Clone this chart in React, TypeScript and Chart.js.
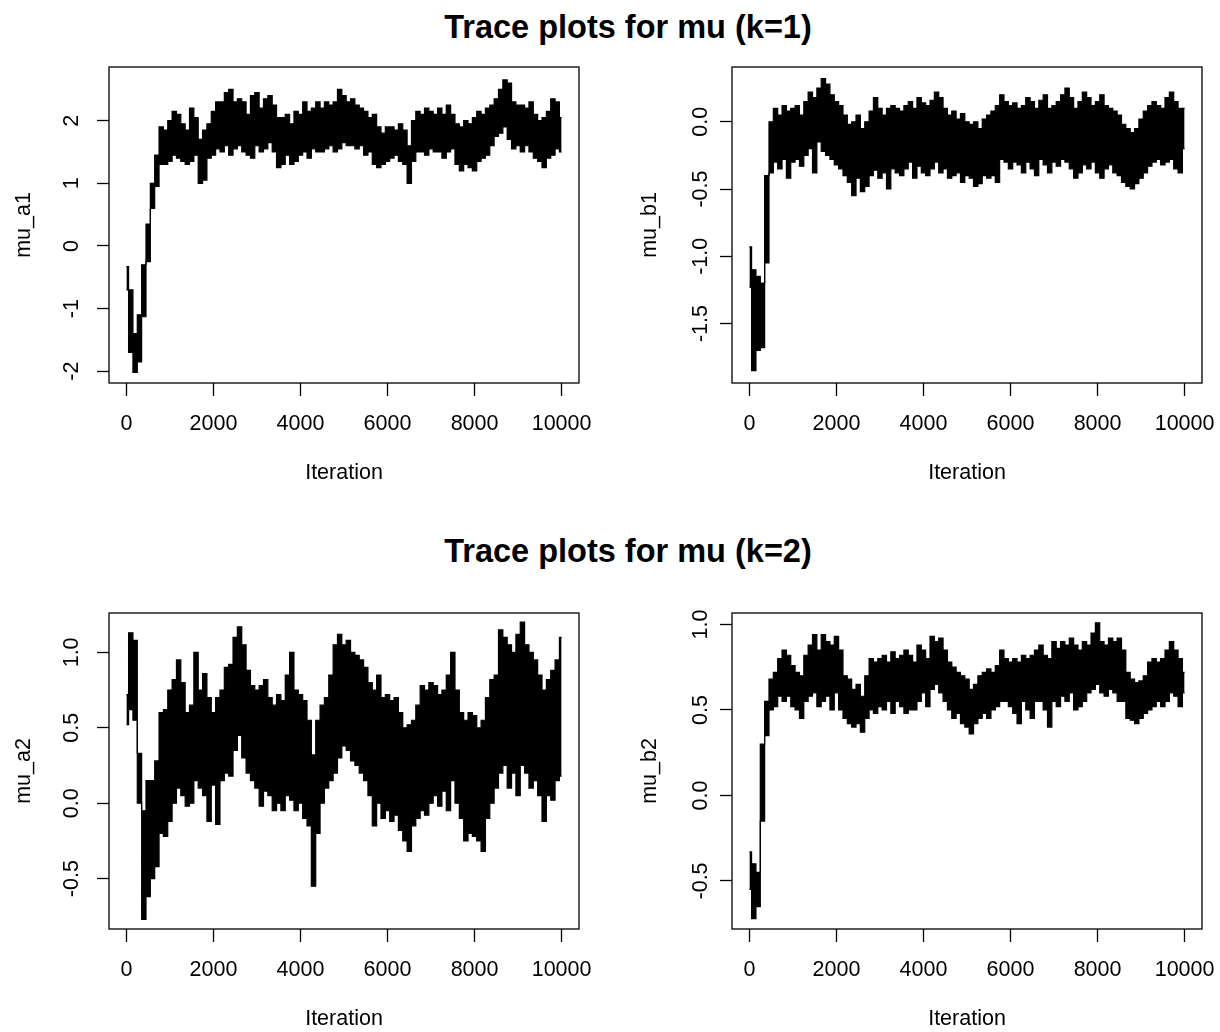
import React, { useEffect, useRef } from "react";
import { Chart, registerables } from "chart.js";

Chart.register(...registerables);

// Iteration positions (every 100 iterations)
const ITERATIONS: number[] = Array.from({ length: 101 }, (_, i) => i * 100);
const X_TICKS = [0, 2000, 4000, 6000, 8000, 10000];

const TITLE_K1 = "Trace plots for mu (k=1)";
const TITLE_K2 = "Trace plots for mu (k=2)";

// ---- mu_a1 (upper / lower envelope of the trace per 100 iterations)
const MU_A1_HI = [-0.33, -0.7, -1.4, -1.1, -0.3, 0.35, 1.0, 1.45, 1.9, 1.85,
  2.0, 2.15, 2.1, 1.95, 1.85, 2.2, 2.05, 1.7, 1.85, 1.95,
  2.15, 2.3, 2.3, 2.45, 2.5, 2.3, 2.35, 2.3, 2.1, 2.4,
  2.45, 2.2, 2.35, 2.4, 2.25, 2.05, 2.05, 2.1, 1.95, 2.15,
  2.1, 2.3, 2.15, 2.2, 2.3, 2.2, 2.3, 2.25, 2.3, 2.5,
  2.4, 2.3, 2.35, 2.25, 2.2, 2.15, 2.05, 2.1, 1.9, 1.8,
  1.9, 1.9, 1.85, 1.95, 1.85, 1.6, 2.0, 2.15, 2.1, 2.2,
  2.15, 2.1, 2.2, 2.1, 2.25, 2.1, 1.95, 1.9, 2.0, 1.95,
  2.05, 2.15, 2.1, 2.2, 2.25, 2.35, 2.5, 2.65, 2.6, 2.3,
  2.25, 2.25, 2.2, 2.3, 2.1, 2.0, 2.05, 2.15, 2.35, 2.3,
  2.05];
const MU_A1_LO = [-0.7, -1.7, -2.02, -1.85, -1.13, -0.25, 0.6, 0.95, 1.3, 1.3,
  1.35, 1.45, 1.4, 1.35, 1.3, 1.35, 1.45, 1.0, 1.05, 1.4,
  1.45, 1.55, 1.5, 1.6, 1.45, 1.55, 1.6, 1.5, 1.45, 1.4,
  1.6, 1.5, 1.55, 1.65, 1.5, 1.25, 1.3, 1.45, 1.3, 1.35,
  1.45, 1.5, 1.4, 1.55, 1.5, 1.5, 1.55, 1.6, 1.5, 1.55,
  1.65, 1.6, 1.6, 1.55, 1.6, 1.45, 1.5, 1.3, 1.25, 1.3,
  1.35, 1.4, 1.45, 1.35, 1.3, 1.0, 1.35, 1.5, 1.5, 1.45,
  1.55, 1.5, 1.5, 1.4, 1.5, 1.55, 1.3, 1.2, 1.3, 1.25,
  1.2, 1.35, 1.4, 1.45, 1.6, 1.75, 1.8, 1.9, 1.7, 1.55,
  1.6, 1.5, 1.6, 1.5, 1.4, 1.35, 1.25, 1.4, 1.45, 1.55,
  1.5];

// ---- mu_b1
const MU_B1_HI = [-0.93, -1.1, -1.15, -1.2, -0.4, 0.0, 0.1, 0.05, 0.12, 0.08,
  0.1, 0.12, 0.05, 0.15, 0.22, 0.18, 0.25, 0.32, 0.28, 0.2,
  0.15, 0.12, 0.05, -0.02, 0.0, 0.05, -0.05, 0.0, 0.08, 0.18,
  0.1, 0.05, 0.1, 0.12, 0.1, 0.08, 0.12, 0.15, 0.1, 0.18,
  0.14, 0.12, 0.16, 0.22, 0.18, 0.1, 0.05, 0.08, 0.02, 0.06,
  0.0, -0.02, 0.0, -0.05, 0.02, 0.05, 0.08, 0.12, 0.2, 0.15,
  0.12, 0.14, 0.1, 0.12, 0.18, 0.15, 0.1, 0.16, 0.2, 0.1,
  0.12, 0.15, 0.2, 0.25, 0.18, 0.1, 0.15, 0.22, 0.18, 0.12,
  0.15, 0.2, 0.12, 0.1, 0.08, 0.05, -0.02, -0.05, -0.08, -0.05,
  0.02, 0.08, 0.12, 0.15, 0.12, 0.1, 0.18, 0.22, 0.15, 0.1,
  0.1];
const MU_B1_LO = [-1.23, -1.85, -1.7, -1.68, -1.05, -0.38, -0.3, -0.35, -0.28, -0.42,
  -0.3, -0.28, -0.33, -0.25, -0.2, -0.38, -0.15, -0.22, -0.25, -0.28,
  -0.32, -0.35, -0.4, -0.45, -0.55, -0.42, -0.52, -0.48, -0.4, -0.36,
  -0.42, -0.38, -0.5, -0.35, -0.38, -0.4, -0.35, -0.3, -0.42, -0.33,
  -0.38, -0.4, -0.35, -0.3, -0.38, -0.35, -0.42, -0.4, -0.38, -0.45,
  -0.4, -0.42, -0.48, -0.46, -0.4, -0.42, -0.4, -0.45, -0.28, -0.3,
  -0.35, -0.3, -0.32, -0.38, -0.3, -0.35, -0.4, -0.28, -0.32, -0.38,
  -0.3, -0.33, -0.28, -0.3, -0.35, -0.42, -0.38, -0.32, -0.35, -0.3,
  -0.38, -0.42, -0.35, -0.32, -0.38, -0.4, -0.45, -0.48, -0.5, -0.46,
  -0.42, -0.38, -0.33, -0.3, -0.28, -0.32, -0.3, -0.28, -0.35, -0.38,
  -0.2];

// ---- mu_a2
const MU_A2_HI = [0.72, 1.13, 1.08, 0.33, -0.05, 0.15, 0.15, 0.28, 0.6, 0.62,
  0.75, 0.82, 0.95, 0.8, 0.6, 0.65, 1.0, 0.75, 0.86, 0.7,
  0.6, 0.7, 0.75, 0.9, 0.92, 1.1, 1.17, 1.05, 0.88, 0.78,
  0.75, 0.78, 0.82, 0.7, 0.65, 0.72, 0.68, 0.85, 1.0, 0.75,
  0.72, 0.68, 0.55, 0.32, 0.55, 0.65, 0.7, 0.85, 1.05, 1.12,
  1.05, 1.08, 1.0, 0.98, 0.95, 0.9, 0.8, 0.75, 0.85, 0.7,
  0.72, 0.68, 0.7, 0.6, 0.5, 0.52, 0.55, 0.65, 0.78, 0.75,
  0.8, 0.78, 0.72, 0.75, 0.85, 1.0, 0.75, 0.6, 0.55, 0.6,
  0.58, 0.5, 0.55, 0.7, 0.82, 0.85, 1.15, 1.1, 1.05, 1.0,
  1.12, 1.2, 1.05, 1.0, 0.95, 0.85, 0.75, 0.82, 0.88, 0.95,
  1.1];
const MU_A2_LO = [0.52, 0.62, 0.55, 0.0, -0.77, -0.62, -0.5, -0.42, -0.2, -0.22,
  -0.12, 0.0, 0.1, 0.05, -0.02, 0.0, 0.15, 0.1, 0.05, -0.12,
  0.12, -0.14, 0.15, 0.2, 0.18, 0.35, 0.45, 0.3, 0.2, 0.15,
  0.1, -0.02, 0.08, 0.05, -0.05, 0.0, -0.05, 0.05, 0.02, -0.05,
  0.0, -0.1, -0.15, -0.55, -0.2, 0.0, 0.1, 0.15, 0.2, 0.3,
  0.38, 0.35, 0.28, 0.25, 0.2, 0.15, 0.05, -0.15, 0.0, -0.1,
  -0.05, -0.12, -0.08, -0.18, -0.25, -0.32, -0.15, -0.1, -0.05, -0.08,
  0.0, 0.05, -0.02, 0.08, -0.05, 0.15, 0.0, -0.1, -0.25, -0.2,
  -0.22, -0.25, -0.32, -0.1, 0.0, 0.1, 0.2, 0.25, 0.1, 0.2,
  0.05, 0.25, 0.2, 0.1, 0.15, 0.05, -0.12, 0.05, 0.02, 0.15,
  0.18];

// ---- mu_b2
const MU_B2_HI = [-0.33, -0.4, -0.45, 0.3, 0.55, 0.68, 0.72, 0.8, 0.85, 0.82,
  0.76, 0.72, 0.7, 0.82, 0.88, 0.94, 0.85, 0.94, 0.9, 0.88,
  0.93, 0.85, 0.7, 0.68, 0.62, 0.65, 0.58, 0.7, 0.8, 0.78,
  0.8, 0.82, 0.78, 0.84, 0.8, 0.82, 0.85, 0.82, 0.78, 0.88,
  0.85, 0.8, 0.93, 0.9, 0.92, 0.85, 0.78, 0.75, 0.72, 0.7,
  0.68, 0.62, 0.65, 0.7, 0.72, 0.74, 0.72, 0.76, 0.85, 0.8,
  0.78, 0.8, 0.78, 0.82, 0.8, 0.82, 0.85, 0.88, 0.82, 0.8,
  0.9, 0.86, 0.9, 0.88, 0.92, 0.88, 0.85, 0.9, 0.88, 0.95,
  1.01, 0.9, 0.88, 0.92, 0.9, 0.92, 0.85, 0.72, 0.68, 0.66,
  0.67, 0.7, 0.78, 0.8, 0.78, 0.8, 0.85, 0.9, 0.85, 0.8,
  0.72];
const MU_B2_LO = [-0.55, -0.72, -0.65, -0.15, 0.35, 0.5, 0.52, 0.58, 0.55, 0.58,
  0.52, 0.5, 0.45, 0.55, 0.58, 0.6, 0.52, 0.55, 0.58, 0.5,
  0.6, 0.5, 0.45, 0.42, 0.4, 0.42, 0.37, 0.45, 0.5, 0.48,
  0.52, 0.5, 0.55, 0.48, 0.55, 0.52, 0.48, 0.5, 0.5, 0.55,
  0.6, 0.52, 0.62, 0.65, 0.6, 0.55, 0.5, 0.45, 0.48, 0.42,
  0.4, 0.36, 0.42, 0.45, 0.48, 0.45, 0.5, 0.52, 0.55, 0.55,
  0.52, 0.48, 0.42, 0.55, 0.5, 0.45, 0.55, 0.55, 0.5, 0.4,
  0.55, 0.52, 0.58, 0.55, 0.6, 0.5, 0.52, 0.55, 0.6, 0.62,
  0.65, 0.6, 0.58, 0.62, 0.6, 0.55, 0.55, 0.45, 0.44, 0.42,
  0.45, 0.48, 0.5, 0.52, 0.55, 0.52, 0.55, 0.6, 0.58, 0.52,
  0.6];

// y-axis ticks / labels per panel
const A1_TICKS = [-2, -1, 0, 1, 2];
const A1_LABELS = ["-2", "-1", "0", "1", "2"];
const B1_TICKS = [-1.5, -1.0, -0.5, 0.0];
const B1_LABELS = ["-1.5", "-1.0", "-0.5", "0.0"];
const A2_TICKS = [-0.5, 0.0, 0.5, 1.0];
const A2_LABELS = ["-0.5", "0.0", "0.5", "1.0"];
const B2_TICKS = [-0.5, 0.0, 0.5, 1.0];
const B2_LABELS = ["-0.5", "0.0", "0.5", "1.0"];

const FONT = '"Liberation Sans", Arial, Helvetica, sans-serif';
const BOX_W = 470;
const BOX_H = 316;
const Y_AREA = 109;
const PAD_TOP = 12;
const PAD_RIGHT = 18;
const X_AREA = 100;

type PanelProps = {
  boxLeft: number;
  boxTop: number;
  yName: string;
  hi: number[];
  lo: number[];
  yMin: number;
  yMax: number;
  yTicks: number[];
  yLabels: string[];
  labelOffset: number;
  titleCenter: number;
};

const framePlugin = {
  id: "frame",
  afterDraw(chart: any) {
    const { ctx, chartArea: a } = chart;
    const cfg = chart.options.plugins.frame;
    ctx.save();
    ctx.strokeStyle = "#000";
    ctx.lineWidth = 1.3;
    ctx.strokeRect(a.left, a.top, a.right - a.left, a.bottom - a.top);
    const ys = chart.scales.y;
    ctx.fillStyle = "#000";
    ctx.font = `21.5px ${FONT}`;
    ctx.textAlign = "center";
    ctx.textBaseline = "middle";
    cfg.values.forEach((v: number, i: number) => {
      const py = ys.getPixelForValue(v);
      ctx.save();
      ctx.translate(a.left - cfg.labelOffset, py);
      ctx.rotate(-Math.PI / 2);
      ctx.fillText(cfg.labels[i], 0, 0);
      ctx.restore();
    });
    ctx.restore();
  },
};

function TracePanel(p: PanelProps) {
  const ref = useRef<HTMLCanvasElement | null>(null);
  const width = Y_AREA + BOX_W + PAD_RIGHT;
  const height = PAD_TOP + BOX_H + X_AREA;

  useEffect(() => {
    if (!ref.current) return;
    const hiPts = ITERATIONS.map((x, i) => ({ x, y: p.hi[i] }));
    const loPts = ITERATIONS.map((x, i) => ({ x, y: p.lo[i] }));
    const chart = new Chart(ref.current, {
      type: "line",
      data: {
        datasets: [
          {
            data: hiPts,
            borderColor: "#000",
            borderWidth: 1.2,
            pointRadius: 0,
            stepped: "middle",
            fill: false,
          },
          {
            data: loPts,
            borderColor: "#000",
            borderWidth: 1.2,
            pointRadius: 0,
            stepped: "middle",
            fill: "-1",
            backgroundColor: "#000",
          },
        ],
      },
      options: {
        animation: false,
        responsive: false,
        maintainAspectRatio: false,
        devicePixelRatio: 1,
        events: [],
        layout: { padding: { left: 0, top: PAD_TOP, right: PAD_RIGHT, bottom: 0 } },
        plugins: {
          legend: { display: false },
          tooltip: { enabled: false },
          title: { display: false },
          frame: { values: p.yTicks, labels: p.yLabels, labelOffset: p.labelOffset },
        } as any,
        scales: {
          x: {
            type: "linear",
            min: -400,
            max: 10400,
            afterBuildTicks: (s: any) => {
              s.ticks = X_TICKS.map((v) => ({ value: v }));
            },
            afterFit: (s: any) => {
              s.height = X_AREA;
              s.paddingLeft = 0;
              s.paddingRight = 0;
            },
            ticks: {
              autoSkip: false,
              maxRotation: 0,
              minRotation: 0,
              padding: 15,
              color: "#000",
              font: { family: FONT, size: 21.5 },
              callback: (v: any) => String(v),
            },
            grid: {
              display: true,
              drawOnChartArea: false,
              drawTicks: true,
              tickLength: 13,
              tickColor: "#000",
              tickWidth: 1.3,
            },
            border: { display: false },
            title: {
              display: true,
              text: "Iteration",
              color: "#000",
              font: { family: FONT, size: 21.5, lineHeight: 1 },
              padding: { top: 0, bottom: -1 },
            },
          },
          y: {
            type: "linear",
            min: p.yMin,
            max: p.yMax,
            afterBuildTicks: (s: any) => {
              s.ticks = p.yTicks.map((v) => ({ value: v }));
            },
            afterFit: (s: any) => {
              s.width = Y_AREA;
              s.paddingTop = 0;
              s.paddingBottom = 0;
            },
            ticks: { display: false },
            grid: {
              display: true,
              drawOnChartArea: false,
              drawTicks: true,
              tickLength: 12,
              tickColor: "#000",
              tickWidth: 1.3,
            },
            border: { display: false },
            title: {
              display: true,
              text: p.yName,
              color: "#000",
              font: { family: FONT, size: 21.5, lineHeight: 1 },
              padding: { top: p.titleCenter - 10.75, bottom: 0 },
            },
          },
        },
      },
      plugins: [framePlugin],
    } as any);
    return () => chart.destroy();
  }, []);

  return (
    <canvas
      ref={ref}
      width={width}
      height={height}
      style={{
        position: "absolute",
        left: p.boxLeft - Y_AREA,
        top: p.boxTop - PAD_TOP,
        width,
        height,
      }}
    />
  );
}

const titleStyle = (top: number): React.CSSProperties => ({
  position: "absolute",
  left: 0,
  width: 1256,
  top,
  textAlign: "center",
  fontFamily: FONT,
  fontWeight: "bold",
  fontSize: 32.5,
  lineHeight: "32px",
  color: "#000",
  whiteSpace: "nowrap",
});

export default function App() {
  return (
    <div
      style={{
        position: "absolute",
        left: 0,
        top: 0,
        width: 1220,
        height: 1032,
        overflow: "hidden",
        background: "#fff",
      }}
    >
      <div style={titleStyle(11)}>{TITLE_K1}</div>
      <div style={titleStyle(535)}>{TITLE_K2}</div>
      <TracePanel boxLeft={109} boxTop={67} yName="mu_a1" hi={MU_A1_HI} lo={MU_A1_LO}
        yMin={-2.188} yMax={2.857} yTicks={A1_TICKS} yLabels={A1_LABELS}
        labelOffset={37} titleCenter={24} />
      <TracePanel boxLeft={732} boxTop={67} yName="mu_b1" hi={MU_B1_HI} lo={MU_B1_LO}
        yMin={-1.942} yMax={0.407} yTicks={B1_TICKS} yLabels={B1_LABELS}
        labelOffset={31} titleCenter={27} />
      <TracePanel boxLeft={109} boxTop={613} yName="mu_a2" hi={MU_A2_HI} lo={MU_A2_LO}
        yMin={-0.834} yMax={1.261} yTicks={A2_TICKS} yLabels={A2_LABELS}
        labelOffset={37} titleCenter={24} />
      <TracePanel boxLeft={732} boxTop={613} yName="mu_b2" hi={MU_B2_HI} lo={MU_B2_LO}
        yMin={-0.781} yMax={1.067} yTicks={B2_TICKS} yLabels={B2_LABELS}
        labelOffset={31} titleCenter={27} />
    </div>
  );
}
